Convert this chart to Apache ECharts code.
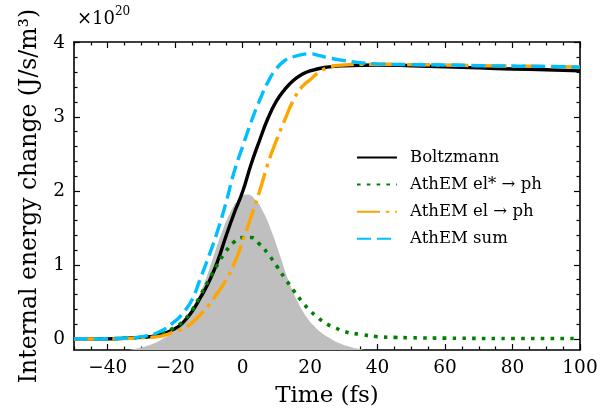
<!DOCTYPE html>
<html>
<head>
<meta charset="utf-8">
<script src="https://cdn.jsdelivr.net/npm/echarts@6/dist/echarts.min.js"></script>
<style>
html,body{margin:0;padding:0;background:#fff;}
#chart{width:608px;height:417px;}
</style>
</head>
<body>
<div id="chart"></div>
<script>
// ---- Data ----
const xTickLabels = [-40, -20, 0, 20, 40, 60, 80, 100];
const yTickLabels = [0, 1, 2, 3, 4];

const tBoltz = [-50,-40,-35,-30,-25,-20,-17.5,-15,-12.5,-10,-7.5,-5,-2.5,0,2.5,5,7.5,10,12.5,15,17.5,20,25,30,40,50,60,70,80,90,100];
const yBoltz = [0.00,0.00,0.01,0.02,0.05,0.14,0.23,0.37,0.56,0.77,1.04,1.38,1.70,1.99,2.36,2.68,2.98,3.21,3.37,3.49,3.57,3.62,3.67,3.69,3.70,3.69,3.675,3.66,3.645,3.635,3.62];

const tGreen = [-50,-40,-35,-30,-25,-20,-17.5,-15,-12.5,-10,-7.5,-5,-2.5,0,2.5,5,7.5,10,12.5,15,17.5,20,22.5,25,27.5,30,35,40,45,50,60,80,100];
const yGreen = [0.00,0.00,0.01,0.02,0.05,0.16,0.25,0.39,0.59,0.80,1.00,1.18,1.31,1.37,1.37,1.28,1.15,0.99,0.82,0.66,0.51,0.38,0.28,0.20,0.15,0.10,0.06,0.03,0.02,0.015,0.01,0.005,0.005];

const tOrange = [-50,-40,-35,-30,-25,-20,-17.5,-15,-12.5,-10,-7.5,-5,-2.5,0,2.5,5,7.5,10,12.5,15,17.5,20,22.5,25,27.5,30,35,40,50,60,70,80,90,100];
const yOrange = [0.00,0.00,0.005,0.015,0.03,0.10,0.14,0.22,0.33,0.46,0.62,0.79,1.02,1.32,1.65,1.99,2.37,2.68,2.96,3.22,3.40,3.50,3.60,3.66,3.69,3.70,3.71,3.71,3.705,3.70,3.69,3.685,3.68,3.67];

const tSum = [-50,-40,-35,-30,-25,-20,-17.5,-15,-12.5,-10,-7.5,-5,-2.5,0,2.5,5,7.5,10,12.5,15,17.5,20,22.5,25,30,35,40,50,60,70,80,90,100];
const ySum = [0.00,0.00,0.01,0.03,0.09,0.24,0.36,0.53,0.82,1.12,1.45,1.83,2.26,2.60,2.93,3.22,3.47,3.65,3.76,3.81,3.84,3.85,3.83,3.80,3.76,3.73,3.715,3.705,3.70,3.69,3.685,3.68,3.67];

const tPulse = [-33.75,-31.25,-28.75,-26.25,-23.75,-21.25,-18.75,-16.25,-13.75,-11.25,-8.75,-6.25,-3.75,-1.25,1.25,3.75,6.25,8.75,11.25,13.75,16.25,18.75,21.25,23.75,26.25,28.75,31.25,33.75,36.25];
const yPulse = [-0.15,-0.13,-0.10,-0.06,0.00,0.07,0.17,0.31,0.51,0.77,1.10,1.43,1.70,1.88,1.95,1.88,1.70,1.43,1.10,0.77,0.51,0.31,0.17,0.07,0.00,-0.06,-0.10,-0.13,-0.15];

const seriesNames = ['Boltzmann', 'AthEM el* \u2192 ph', 'AthEM el \u2192 ph', 'AthEM sum'];

// ---- Build ----
const pair = (t, y) => t.map((v, i) => [v, y[i]]);
const FONT = 'DejaVu Serif';
const X_MIN = -50, X_MAX = 100, Y_MIN = -0.15, Y_MAX = 4.01;

const xMinor = [];
for (let v = -50; v <= 100; v += 5) if (xTickLabels.indexOf(v) < 0) xMinor.push(v);
const yMinor = [];
for (let k = 0; k <= 20; k++) { const v = +(k * 0.2).toFixed(1); if (yTickLabels.indexOf(v) < 0) yMinor.push(v); }

function xAx(pos, ticks, len, withLabel, lineShow) {
  return {
    type: 'value', position: pos, min: X_MIN, max: X_MAX,
    axisLine: { show: lineShow, onZero: false, lineStyle: { color: '#000', width: 1.6 } },
    axisTick: { show: true, inside: true, length: len, customValues: ticks, lineStyle: { color: '#000', width: 1.2 } },
    axisLabel: { show: withLabel, customValues: ticks, margin: 9, color: '#000', fontFamily: FONT, fontSize: 18.5,
      formatter: v => String(v).replace('-', '\u2212') },
    splitLine: { show: false }
  };
}
function yAx(pos, ticks, len, withLabel, lineShow) {
  return {
    type: 'value', position: pos, min: Y_MIN, max: Y_MAX,
    axisLine: { show: lineShow, onZero: false, lineStyle: { color: '#000', width: 1.6 } },
    axisTick: { show: true, inside: true, length: len, customValues: ticks, lineStyle: { color: '#000', width: 1.2 } },
    axisLabel: { show: withLabel, customValues: ticks, margin: 9, color: '#000', fontFamily: FONT, fontSize: 18.5 },
    splitLine: { show: false }
  };
}

const xAxes = [
  xAx('bottom', xTickLabels, 6, true, true),
  xAx('bottom', xMinor, 3.5, false, false),
  xAx('top', xTickLabels, 6, false, true),
  xAx('top', xMinor, 3.5, false, false)
];
xAxes[0].name = 'Time (fs)';
xAxes[0].nameLocation = 'middle';
xAxes[0].nameGap = 35;
xAxes[0].nameTextStyle = { fontFamily: FONT, fontSize: 23, color: '#000' };

const yAxes = [
  yAx('left', yTickLabels, 6, true, true),
  yAx('left', yMinor, 3.5, false, false),
  yAx('right', yTickLabels, 6, false, true),
  yAx('right', yMinor, 3.5, false, false)
];
yAxes[0].name = 'Internal energy change (J/s/m\u00B3)';
yAxes[0].nameLocation = 'middle';
yAxes[0].nameGap = 31;
yAxes[0].nameTextStyle = { fontFamily: FONT, fontSize: 23.5, color: '#000' };

const lw = 3.4;
const option = {
  animation: false,
  backgroundColor: '#fff',
  grid: { left: 74, right: 28, top: 42, bottom: 67, containLabel: false },
  xAxis: xAxes,
  yAxis: yAxes,
  legend: {
    data: seriesNames,
    orient: 'vertical', left: 356, top: 149,
    itemWidth: 40, itemHeight: 14, itemGap: 10.1,
    padding: 0,
    itemStyle: { opacity: 0 },
    textStyle: { fontFamily: FONT, fontSize: 16.5, lineHeight: 14, color: '#000', padding: [0, 0, 0, 8] }
  },
  graphic: [{
    type: 'text', left: 77, top: 6,
    style: {
      text: '{a|\u00D710}{b|20}',
      rich: {
        a: { fontFamily: FONT, fontSize: 18, fill: '#000', verticalAlign: 'bottom' },
        b: { fontFamily: FONT, fontSize: 12, fill: '#000', verticalAlign: 'top', padding: [0, 0, 10, 0] }
      }
    }
  }],
  series: [
    { type: 'line', name: 'pulse', data: pair(tPulse, yPulse), smooth: 0.5, showSymbol: false, symbol: 'none',
      lineStyle: { width: 0, opacity: 0 }, areaStyle: { color: '#bfbfbf', opacity: 1, origin: 'start' }, z: 1, silent: true },
    { type: 'line', name: seriesNames[0], data: pair(tBoltz, yBoltz), smooth: 0.5, symbol: 'none',
      color: '#000000', lineStyle: { color: '#000000', width: lw }, z: 2 },
    { type: 'line', name: seriesNames[1], data: pair(tGreen, yGreen), smooth: 0.5, symbol: 'none',
      color: '#008000', lineStyle: { color: '#008000', width: 3.6, type: [3.6, 6.2], cap: 'butt' }, z: 3 },
    { type: 'line', name: seriesNames[2], data: pair(tOrange, yOrange), smooth: 0.5, symbol: 'none',
      color: '#FFA500', lineStyle: { color: '#FFA500', width: lw, type: [23, 5.8, 3.6, 5.8], cap: 'butt' }, z: 4 },
    { type: 'line', name: seriesNames[3], data: pair(tSum, ySum), smooth: 0.5, symbol: 'none',
      color: '#00BFFF', lineStyle: { color: '#00BFFF', width: lw, type: [14, 6], cap: 'butt' }, z: 5 }
  ]
};

const chart = echarts.init(document.getElementById('chart'), null, { renderer: 'canvas' });
chart.setOption(option);
</script>
</body>
</html>
